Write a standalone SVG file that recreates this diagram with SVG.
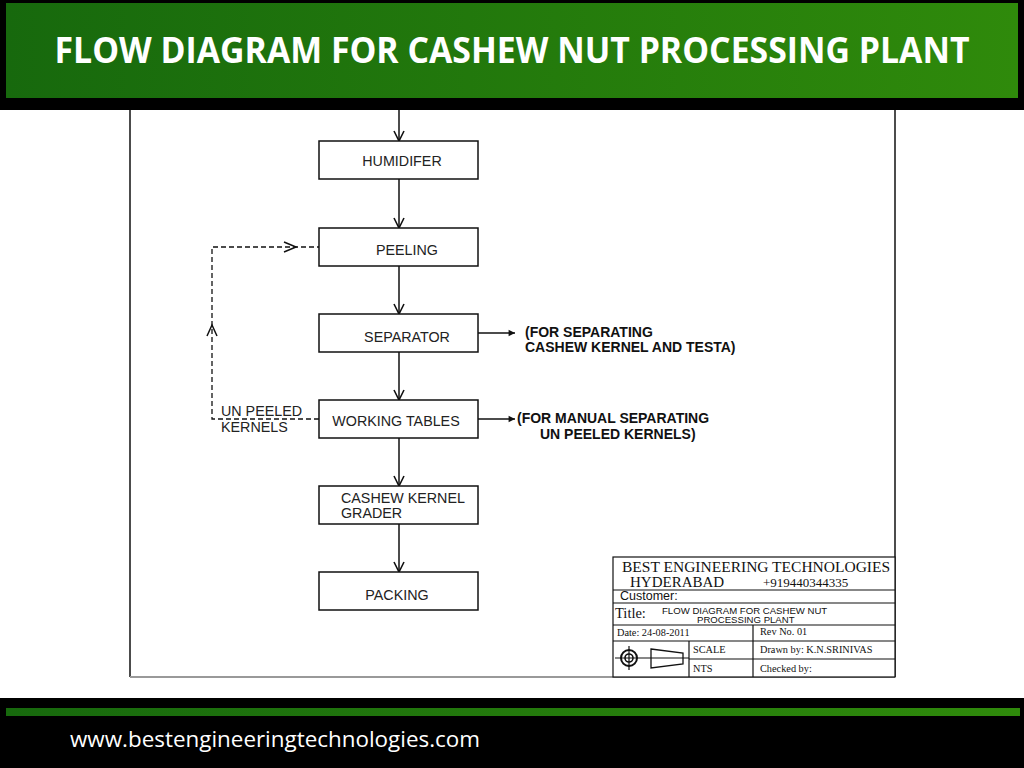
<svg xmlns="http://www.w3.org/2000/svg" width="1024" height="768" viewBox="0 0 1024 768">
<defs>
<linearGradient id="g" x1="0" y1="0" x2="1" y2="0">
<stop offset="0" stop-color="#17690d"/>
<stop offset="1" stop-color="#2f8a0b"/>
</linearGradient>
<marker id="ah" viewBox="0 0 12 12" refX="11" refY="6" markerWidth="12" markerHeight="12" markerUnits="userSpaceOnUse" orient="auto">
<path d="M1,1 L11,6 L1,11" fill="none" stroke="#111" stroke-width="1.6"/>
</marker>
<marker id="ah2" viewBox="0 0 10 10" refX="9" refY="5" markerWidth="8" markerHeight="8" markerUnits="userSpaceOnUse" orient="auto">
<path d="M1,1 L9,5 L1,9 Z" fill="#111"/>
</marker>
</defs>
<style>
.box{fill:#fff;stroke:#111;stroke-width:1.5}
.lbl{font-family:"Liberation Sans",Arial,sans-serif;font-size:14.3px;fill:#222}
.note{font-family:"Liberation Sans",Arial,sans-serif;font-size:14px;font-weight:bold;fill:#111}
.ln{stroke:#111;stroke-width:1.5;fill:none}
.dash{stroke:#111;stroke-width:1.3;fill:none;stroke-dasharray:5,3}
.tb{stroke:#111;stroke-width:1.2;fill:none}
.serif{font-family:"Liberation Serif","Times New Roman",serif;fill:#111}
.sans{font-family:"Liberation Sans",Arial,sans-serif;fill:#111}
</style>
<rect x="0" y="0" width="1024" height="768" fill="#fff"/>
<rect x="0" y="0" width="1024" height="110" fill="#000"/>
<rect x="6" y="3" width="1012" height="95" fill="url(#g)"/>
<text x="512" y="63" text-anchor="middle" font-family="Open Sans, Liberation Sans, sans-serif" font-weight="bold" font-size="35" fill="#fff" textLength="915" lengthAdjust="spacingAndGlyphs">FLOW DIAGRAM FOR CASHEW NUT PROCESSING PLANT</text>
<rect x="0" y="698" width="1024" height="70" fill="#000"/>
<rect x="6" y="708" width="1014" height="8" fill="url(#g)"/>
<text x="70" y="747" font-family="Open Sans, Liberation Sans, sans-serif" font-size="22" fill="#fff" textLength="410" lengthAdjust="spacingAndGlyphs">www.bestengineeringtechnologies.com</text>
<g id="sheet">
<line x1="130" y1="110" x2="130" y2="677" stroke="#111" stroke-width="1.5"/>
<line x1="895" y1="110" x2="895" y2="677" stroke="#111" stroke-width="1.5"/>
<line x1="130" y1="677" x2="895" y2="677" stroke="#999" stroke-width="2"/>
</g>
<g id="connectors">
<line class="ln" x1="399" y1="110" x2="399" y2="141" marker-end="url(#ah)"/>
<line class="ln" x1="399" y1="179" x2="399" y2="228" marker-end="url(#ah)"/>
<line class="ln" x1="399" y1="266" x2="399" y2="314" marker-end="url(#ah)"/>
<line class="ln" x1="399" y1="352" x2="399" y2="400" marker-end="url(#ah)"/>
<line class="ln" x1="399" y1="438" x2="399" y2="486" marker-end="url(#ah)"/>
<line class="ln" x1="399" y1="524" x2="399" y2="572" marker-end="url(#ah)"/>
<line class="ln" x1="478" y1="333" x2="515" y2="333" marker-end="url(#ah2)"/>
<line class="ln" x1="478" y1="419" x2="515" y2="419" marker-end="url(#ah2)"/>
<polyline class="dash" points="319,419 212,419 212,247 319,247"/>
<path class="ln" d="M284,242 L296,247 L284,252" stroke-width="1.4"/>
<path class="ln" d="M207,336 L212,325 L217,336" stroke-width="1.4"/>
</g>
<g id="humidifer"><rect class="box" x="319" y="141" width="159" height="38"/><text class="lbl" x="402" y="166" text-anchor="middle">HUMIDIFER</text></g>
<g id="peeling"><rect class="box" x="319" y="228" width="159" height="38"/><text class="lbl" x="407" y="255" text-anchor="middle">PEELING</text></g>
<g id="separator"><rect class="box" x="319" y="314" width="159" height="38"/><text class="lbl" x="407" y="342" text-anchor="middle">SEPARATOR</text></g>
<g id="working-tables"><rect class="box" x="319" y="400" width="159" height="38"/><text class="lbl" x="396" y="426" text-anchor="middle">WORKING TABLES</text></g>
<g id="grader"><rect class="box" x="319" y="486" width="159" height="38"/><text class="lbl" x="341" y="503">CASHEW KERNEL</text><text class="lbl" x="341" y="518">GRADER</text></g>
<g id="packing"><rect class="box" x="319" y="572" width="159" height="38"/><text class="lbl" x="397" y="600" text-anchor="middle">PACKING</text></g>
<g id="labels">
<text class="lbl" x="221" y="416">UN PEELED</text>
<text class="lbl" x="221" y="432">KERNELS</text>
<text class="note" x="525" y="337">(FOR SEPARATING</text>
<text class="note" x="525" y="352">CASHEW KERNEL AND TESTA)</text>
<text class="note" x="517" y="423">(FOR MANUAL SEPARATING</text>
<text class="note" x="540" y="439">UN PEELED KERNELS)</text>
</g>
<g id="title-block">
<rect x="613" y="557" width="282" height="120" fill="#fff" stroke="#111" stroke-width="1.2"/>
<line class="tb" x1="613" y1="590" x2="895" y2="590"/>
<line class="tb" x1="613" y1="603" x2="895" y2="603"/>
<line class="tb" x1="613" y1="625" x2="895" y2="625"/>
<line class="tb" x1="613" y1="641" x2="895" y2="641"/>
<line class="tb" x1="689" y1="659" x2="895" y2="659"/>
<line class="tb" x1="753" y1="625" x2="753" y2="677"/>
<line class="tb" x1="689" y1="641" x2="689" y2="677"/>
<text class="serif" x="622" y="572" font-size="15.5">BEST ENGINEERING TECHNOLOGIES</text>
<text class="serif" x="630" y="587" font-size="15">HYDERABAD</text>
<text class="serif" x="763" y="587" font-size="13">+919440344335</text>
<text class="sans" x="620" y="600" font-size="12.5">Customer:</text>
<text class="serif" x="615" y="618" font-size="14.5">Title:</text>
<text class="sans" x="662" y="614" font-size="9.6">FLOW DIAGRAM FOR CASHEW NUT</text>
<text class="sans" x="697" y="623" font-size="9.6">PROCESSING PLANT</text>
<text class="serif" x="617" y="636" font-size="10.3">Date: 24-08-2011</text>
<text class="serif" x="760" y="635" font-size="10.3">Rev No. 01</text>
<text class="serif" x="693" y="653" font-size="10.3">SCALE</text>
<text class="serif" x="760" y="653" font-size="10.3">Drawn by:  K.N.SRINIVAS</text>
<text class="serif" x="693" y="672" font-size="10.3">NTS</text>
<text class="serif" x="760" y="672" font-size="10.3">Checked  by:</text>
<circle cx="629" cy="658" r="8" fill="none" stroke="#111" stroke-width="2"/>
<circle cx="629" cy="658" r="4" fill="none" stroke="#111" stroke-width="1.6"/>
<line class="tb" x1="629" y1="646" x2="629" y2="670"/>
<line class="tb" x1="615" y1="658" x2="689" y2="658"/>
<polygon points="651,649 683,653 683,664 651,668" fill="none" stroke="#111" stroke-width="1.3"/>
</g>
</svg>
